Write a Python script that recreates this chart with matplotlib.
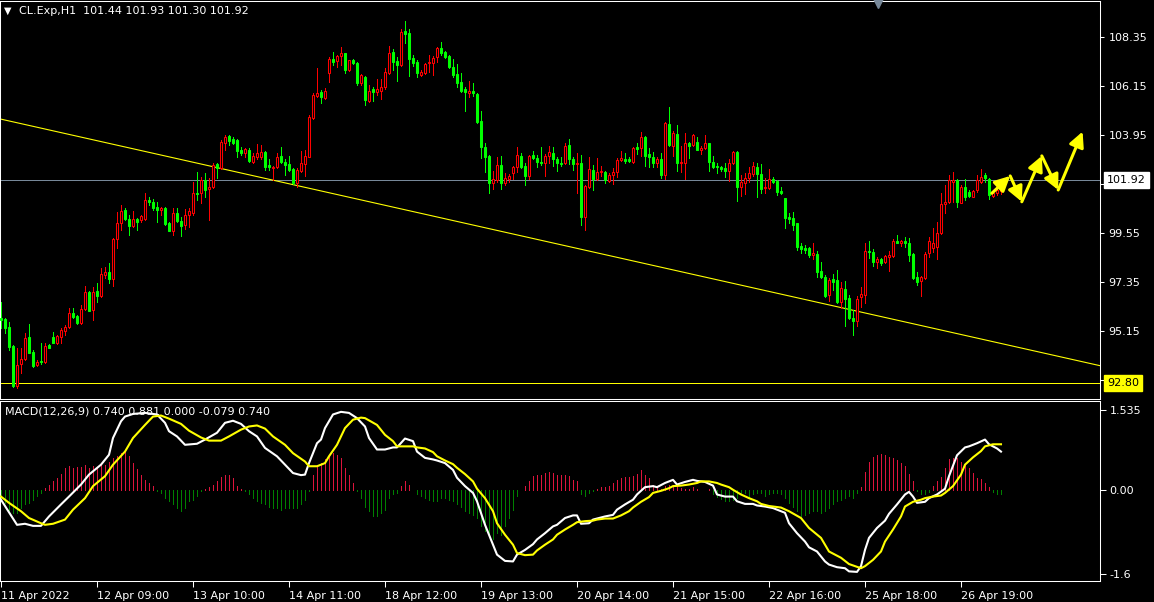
import matplotlib
matplotlib.use('Agg')
import matplotlib.pyplot as plt
import numpy as np

# CL.Exp H1 candles, 11 Apr 2022 -> 26 Apr 2022 (one entry per hour bar)
opens = [95.70, 95.66, 95.30, 94.46, 92.68, 93.64, 93.86, 94.85, 94.21, 93.61,
         93.78, 93.76, 94.51, 94.85, 94.58, 94.85, 95.15, 95.30, 95.96, 95.81,
         95.51, 96.11, 96.90, 96.08, 96.93, 96.72, 97.65, 97.80, 97.46, 99.25,
         100.00, 100.57, 100.15, 99.87, 100.15, 100.12, 100.15, 101.02, 100.94, 100.69,
         100.57, 100.64, 100.00, 99.64, 100.42, 100.09, 99.90, 100.34, 100.45, 101.35,
         101.32, 101.92, 101.50, 101.59, 102.62, 102.44, 103.59, 103.89, 103.74, 103.71,
         103.26, 103.14, 103.26, 102.74, 102.93, 102.96, 103.17, 102.59, 102.44, 102.51,
         102.99, 102.74, 102.63, 102.40, 101.77, 102.34, 102.63, 102.96, 104.69, 105.69,
         105.88, 105.58, 106.71, 107.34, 107.28, 107.49, 107.60, 106.86, 107.31, 107.19,
         106.26, 106.56, 105.48, 105.99, 105.88, 105.93, 106.08, 106.74, 107.68, 107.26,
         107.07, 108.61, 108.53, 107.38, 107.23, 106.63, 106.71, 107.19, 107.16, 107.43,
         107.83, 107.65, 107.49, 107.01, 106.68, 106.33, 105.99, 105.84, 105.93, 105.78,
         104.58, 103.41, 102.99, 101.77, 101.92, 102.59, 101.77, 101.95, 102.22, 102.49,
         102.99, 102.54, 102.10, 103.04, 102.89, 102.71, 102.66, 102.99, 103.14, 102.84,
         102.69, 102.66, 103.49, 102.84, 102.63, 102.66, 100.27, 101.59, 102.37, 101.95,
         102.29, 102.29, 101.89, 102.14, 102.29, 102.81, 102.86, 102.84, 102.74, 103.41,
         103.34, 103.83, 103.08, 102.93, 102.66, 102.84, 102.14, 104.43, 103.44, 103.98,
         102.66, 102.66, 103.59, 103.49, 103.64, 103.26, 103.34, 103.56, 102.74, 102.56,
         102.51, 102.47, 102.34, 102.66, 103.19, 101.62, 101.77, 101.99, 102.19, 102.51,
         102.19, 101.54, 101.54, 101.95, 101.89, 101.44, 101.09, 100.24, 100.19, 100.00,
         98.95, 98.85, 98.85, 98.53, 98.59, 97.84, 97.57, 96.75, 97.46, 97.43,
         96.45, 97.01, 96.60, 95.70, 95.60, 96.65, 96.75, 98.74, 98.70, 98.25,
         98.35, 98.25, 98.47, 98.50, 99.19, 99.07, 99.19, 99.07, 98.59, 97.57,
         97.40, 97.50, 98.62, 98.85, 98.92, 99.52, 100.84, 100.94, 101.84, 101.92,
         100.90, 101.59, 101.39, 101.17, 101.47, 101.84, 102.14, 101.95, 101.20, 101.35,
         101.44]
highs = [96.45, 95.70, 95.55, 94.50, 94.36, 94.36, 95.03, 95.45, 94.28, 93.83,
         94.61, 94.58, 94.55, 95.09, 94.96, 95.25, 95.40, 96.15, 96.15, 95.85,
         96.30, 97.16, 96.95, 97.13, 97.28, 97.98, 98.02, 98.17, 99.30, 100.49,
         100.79, 100.64, 100.34, 100.54, 100.19, 100.34, 101.35, 101.14, 101.05, 100.94,
         100.72, 100.69, 100.04, 100.64, 100.64, 100.27, 100.60, 100.64, 101.84, 102.29,
         102.07, 102.25, 101.99, 102.66, 102.69, 103.71, 103.94, 103.94, 103.83, 103.74,
         103.41, 103.34, 103.34, 103.11, 103.53, 103.49, 103.23, 102.84, 102.54, 103.11,
         103.41, 102.84, 102.99, 102.44, 102.44, 103.23, 103.26, 104.84, 105.81, 106.93,
         105.96, 106.03, 107.43, 107.68, 107.53, 107.87, 107.63, 107.31, 107.34, 107.23,
         106.68, 106.59, 106.18, 106.08, 106.44, 106.44, 106.93, 107.93, 107.78, 107.46,
         108.68, 109.04, 108.68, 107.53, 107.31, 106.86, 107.19, 107.53, 107.49, 107.87,
         108.13, 107.72, 107.53, 107.34, 107.13, 106.71, 106.08, 106.38, 106.26, 105.81,
         105.03, 103.56, 103.04, 102.34, 102.93, 102.99, 102.22, 102.19, 102.54, 103.41,
         103.14, 102.69, 103.04, 103.23, 103.04, 103.38, 103.08, 103.44, 103.41, 102.96,
         102.93, 103.56, 103.74, 102.96, 103.11, 103.04, 101.69, 102.93, 102.59, 102.89,
         102.54, 102.34, 102.22, 102.47, 102.89, 103.23, 103.11, 102.93, 103.41, 103.59,
         104.09, 103.89, 103.34, 103.19, 102.93, 103.11, 104.54, 105.18, 104.13, 104.39,
         103.44, 104.04, 103.64, 103.98, 103.83, 103.44, 103.94, 103.59, 102.99, 102.66,
         102.54, 102.66, 102.84, 103.23, 103.23, 102.14, 102.22, 102.51, 102.74, 102.69,
         102.63, 101.99, 102.40, 102.04, 101.92, 101.62, 101.12, 100.42, 100.49, 100.00,
         99.07, 99.00, 98.89, 99.10, 98.74, 98.25, 97.65, 97.50, 97.69, 97.87,
         97.35, 97.40, 96.75, 96.08, 96.71, 97.10, 99.10, 99.19, 98.80, 98.44,
         98.40, 98.55, 98.74, 99.25, 99.45, 99.22, 99.34, 99.30, 98.65, 97.80,
         97.60, 98.70, 99.34, 99.75, 100.04, 101.32, 101.69, 102.14, 102.29, 101.95,
         101.69, 101.95, 101.47, 101.47, 102.14, 102.40, 102.22, 101.99, 101.39, 101.54,
         101.93]
lows = [95.25, 95.03, 94.28, 92.63, 92.56, 93.23, 93.83, 94.13, 93.53, 93.56,
        93.65, 93.68, 94.36, 94.58, 94.55, 94.58, 94.96, 95.25, 95.70, 95.45,
        95.45, 96.08, 96.05, 95.63, 96.45, 96.68, 97.50, 97.28, 97.16, 98.85,
        99.67, 100.12, 99.45, 99.82, 99.67, 100.04, 100.12, 100.79, 100.57, 100.04,
        100.34, 99.90, 99.64, 99.45, 100.04, 99.40, 99.70, 99.82, 100.34, 101.02,
        100.87, 101.17, 100.12, 101.54, 101.99, 102.40, 103.26, 103.49, 103.53, 102.96,
        103.04, 102.96, 102.74, 102.66, 102.84, 102.84, 102.37, 102.37, 101.92, 102.44,
        102.66, 102.14, 102.34, 101.74, 101.62, 102.29, 102.10, 102.93, 104.64, 105.66,
        105.39, 105.54, 106.33, 107.08, 106.98, 107.08, 106.74, 106.83, 107.13, 106.18,
        106.18, 105.28, 105.43, 105.48, 105.73, 105.54, 105.99, 106.68, 106.86, 106.38,
        107.04, 108.08, 106.59, 107.04, 106.56, 106.59, 106.68, 106.78, 106.63, 107.23,
        107.53, 107.38, 106.93, 106.53, 106.11, 105.88, 105.03, 105.63, 105.69, 104.46,
        102.89, 102.29, 101.32, 101.50, 101.84, 101.50, 101.69, 101.84, 101.95, 102.29,
        102.44, 101.69, 101.95, 102.84, 102.51, 102.59, 102.10, 102.66, 102.54, 102.34,
        102.54, 102.63, 102.63, 102.37, 101.35, 99.90, 99.67, 101.54, 101.47, 101.92,
        102.10, 101.80, 101.84, 101.74, 102.04, 102.78, 102.69, 102.74, 102.69, 103.08,
        102.99, 102.56, 102.51, 102.49, 102.49, 102.02, 101.95, 103.44, 102.99, 102.34,
        102.29, 101.95, 102.89, 103.44, 103.26, 103.08, 103.32, 102.34, 102.44, 102.25,
        102.34, 102.07, 101.89, 102.63, 100.99, 101.20, 101.29, 101.84, 102.10, 101.14,
        101.35, 101.35, 101.50, 101.80, 101.24, 101.29, 99.75, 100.00, 99.67, 98.77,
        98.62, 98.62, 98.47, 98.35, 97.57, 97.50, 96.68, 96.50, 96.98, 96.38,
        96.15, 95.36, 95.66, 94.96, 95.36, 96.23, 96.41, 98.40, 98.05, 97.95,
        98.10, 98.17, 97.84, 98.47, 99.07, 98.95, 98.92, 98.29, 97.46, 97.20,
        96.71, 97.46, 98.47, 98.70, 98.35, 99.49, 100.42, 100.87, 100.94, 100.72,
        100.87, 101.02, 101.17, 101.14, 101.39, 101.77, 101.84, 101.05, 101.14, 101.24,
        101.30]
closes = [95.62, 95.25, 94.43, 92.68, 93.61, 93.86, 94.81, 94.16, 93.58, 93.76,
          93.74, 94.46, 94.39, 94.61, 94.91, 95.18, 95.30, 95.93, 95.78, 95.48,
          96.11, 96.90, 96.05, 96.90, 96.72, 97.68, 97.80, 97.46, 99.25, 100.00,
          100.54, 100.15, 99.85, 100.15, 100.04, 100.30, 101.02, 100.94, 100.64, 100.57,
          100.64, 99.94, 99.64, 100.42, 100.09, 99.85, 100.34, 100.54, 101.35, 101.29,
          101.92, 101.47, 101.59, 102.59, 102.44, 103.64, 103.86, 103.68, 103.59, 103.23,
          103.11, 103.29, 102.78, 102.99, 103.11, 103.19, 102.51, 102.51, 102.51, 102.93,
          102.74, 102.59, 102.37, 101.77, 102.37, 102.69, 102.99, 104.76, 105.73, 105.84,
          105.63, 105.93, 107.34, 107.23, 107.49, 107.60, 106.86, 107.31, 107.19, 106.26,
          106.63, 105.51, 105.93, 105.88, 105.99, 106.08, 106.78, 107.63, 107.23, 107.08,
          108.56, 108.47, 107.34, 107.19, 106.74, 106.78, 107.11, 107.23, 107.38, 107.83,
          107.63, 107.43, 106.98, 106.63, 106.29, 105.93, 105.88, 105.93, 105.81, 104.54,
          103.41, 102.96, 101.77, 101.95, 102.59, 101.77, 101.99, 102.10, 102.49, 103.04,
          102.49, 102.10, 102.99, 102.89, 102.74, 102.66, 102.99, 103.19, 102.84, 102.66,
          102.63, 103.44, 102.84, 102.63, 102.69, 100.27, 101.65, 102.40, 101.95, 102.29,
          102.34, 101.92, 102.14, 102.29, 102.81, 102.89, 102.78, 102.78, 103.37, 103.32,
          103.83, 102.99, 102.93, 102.66, 102.84, 102.14, 104.49, 103.49, 104.01, 102.66,
          102.74, 103.59, 103.46, 103.94, 103.26, 103.37, 103.56, 102.74, 102.51, 102.49,
          102.40, 102.34, 102.69, 103.19, 101.62, 101.84, 101.99, 102.25, 102.54, 102.19,
          101.50, 101.62, 101.95, 101.84, 101.39, 101.32, 100.19, 100.18, 99.90, 98.92,
          98.80, 98.77, 98.55, 98.62, 97.80, 97.54, 96.71, 97.43, 97.35, 96.45,
          97.05, 96.56, 95.70, 95.60, 96.56, 96.80, 98.74, 98.70, 98.25, 98.35,
          98.17, 98.50, 98.55, 99.19, 99.10, 99.19, 99.07, 98.55, 97.50, 97.35,
          97.54, 98.59, 99.19, 99.07, 99.52, 100.84, 100.94, 101.92, 101.92, 100.94,
          101.62, 101.17, 101.20, 101.44, 101.92, 102.07, 101.99, 101.24, 101.32, 101.47,
          101.92]

# MACD histogram, one value per bar
macd_hist = [-0.15, -0.24, -0.37, -0.43, -0.43, -0.34, -0.27, -0.24, -0.18, -0.11,
             -0.05, 0.04, 0.10, 0.17, 0.24, 0.31, 0.43, 0.46, 0.43, 0.44,
             0.44, 0.49, 0.43, 0.46, 0.43, 0.49, 0.49, 0.55, 0.62, 0.65,
             0.71, 0.75, 0.65, 0.52, 0.40, 0.30, 0.20, 0.14, 0.08, -0.01,
             -0.05, -0.15, -0.21, -0.27, -0.34, -0.40, -0.34, -0.21, -0.18, -0.11,
             -0.02, 0.03, 0.06, 0.11, 0.17, 0.25, 0.30, 0.29, 0.24, 0.08,
             0.03, -0.01, -0.08, -0.15, -0.21, -0.24, -0.27, -0.31, -0.34, -0.34,
             -0.37, -0.34, -0.34, -0.34, -0.34, -0.27, -0.18, -0.02, 0.30, 0.46,
             0.52, 0.59, 0.65, 0.71, 0.68, 0.62, 0.43, 0.30, 0.14, -0.01,
             -0.15, -0.31, -0.40, -0.50, -0.50, -0.43, -0.37, -0.15, -0.08, -0.05,
             0.08, 0.17, 0.10, 0.01, -0.08, -0.11, -0.15, -0.18, -0.21, -0.21,
             -0.15, -0.15, -0.18, -0.21, -0.27, -0.31, -0.40, -0.43, -0.47, -0.53,
             -0.69, -0.77, -0.85, -0.94, -0.82, -0.85, -0.69, -0.53, -0.37, -0.11,
             0.01, 0.08, 0.17, 0.27, 0.29, 0.29, 0.33, 0.35, 0.33, 0.30,
             0.29, 0.29, 0.27, 0.20, 0.18, -0.08, -0.11, -0.05, -0.02, 0.03,
             0.06, 0.06, 0.08, 0.14, 0.20, 0.24, 0.25, 0.25, 0.27, 0.31,
             0.38, 0.29, 0.24, 0.10, 0.06, 0.03, 0.08, 0.10, 0.10, 0.08,
             0.04, 0.03, 0.03, 0.06, 0.03, 0.01, 0.01, 0.03, -0.08, -0.13,
             -0.16, -0.21, -0.21, -0.18, -0.15, -0.08, -0.05, -0.15, -0.08, -0.05,
             -0.05, -0.11, -0.08, -0.05, -0.05, -0.08, -0.15, -0.24, -0.31, -0.40,
             -0.50, -0.48, -0.43, -0.40, -0.40, -0.43, -0.40, -0.34, -0.27, -0.21,
             -0.18, -0.15, -0.11, -0.15, -0.05, 0.06, 0.35, 0.55, 0.63, 0.68,
             0.69, 0.67, 0.63, 0.61, 0.57, 0.52, 0.46, 0.31, 0.17, -0.02,
             -0.08, -0.08, -0.03, 0.08, 0.17, 0.25, 0.43, 0.59, 0.62, 0.61,
             0.55, 0.49, 0.43, 0.33, 0.24, 0.22, 0.14, 0.06, -0.03, -0.07,
             -0.08]

# MACD main line (white), read at these bars
macd_bars = [0, 4, 6, 8, 10, 12, 15, 17, 20, 22, 25, 27, 28, 30, 31, 33, 36, 39, 41, 42,
             44, 46, 49, 51, 54, 56, 58, 60, 62, 64, 66, 69, 71, 73, 75, 76, 77, 78, 79, 80,
             81, 83, 85, 87, 89, 91, 92, 94, 96, 98, 99, 101, 103, 104, 106, 108, 109, 111, 113, 114,
             116, 118, 119, 121, 123, 124, 126, 128, 129, 131, 133, 134, 136, 138, 139, 141, 143, 144, 145, 147,
             148, 151, 153, 154, 156, 158, 159, 161, 163, 164, 166, 168, 169, 171, 173, 174, 176, 178, 179, 181,
             183, 184, 186, 188, 189, 191, 193, 194, 196, 197, 199, 201, 202, 204, 206, 207, 209, 211, 212, 214,
             215, 216, 217, 219, 221, 222, 224, 226, 227, 228, 229, 231, 232, 234, 236, 237, 239, 241, 242, 244,
             246, 247, 249, 250]
macd_line = [-0.18, -0.66, -0.64, -0.68, -0.68, -0.50, -0.27, -0.12, 0.11, 0.30, 0.49, 0.68, 1.00, 1.32, 1.41, 1.46, 1.48, 1.45, 1.29, 1.13,
             1.03, 0.87, 0.89, 0.97, 1.10, 1.29, 1.33, 1.27, 1.13, 1.03, 0.81, 0.65, 0.49, 0.33, 0.29, 0.30, 0.52, 0.71, 0.90, 0.97,
             1.19, 1.45, 1.50, 1.48, 1.38, 1.22, 1.00, 0.78, 0.78, 0.82, 0.82, 0.99, 0.94, 0.74, 0.62, 0.59, 0.57, 0.52, 0.39, 0.24,
             0.08, -0.05, -0.21, -0.66, -1.04, -1.23, -1.35, -1.36, -1.23, -1.14, -1.03, -0.94, -0.82, -0.69, -0.66, -0.53, -0.48, -0.48, -0.64, -0.63,
             -0.56, -0.50, -0.47, -0.37, -0.27, -0.18, -0.08, 0.06, 0.08, 0.06, 0.14, 0.20, 0.11, 0.16, 0.20, 0.18, 0.16, 0.09, -0.08, -0.12,
             -0.12, -0.21, -0.26, -0.26, -0.29, -0.31, -0.34, -0.37, -0.43, -0.63, -0.82, -0.98, -1.09, -1.17, -1.36, -1.42, -1.47, -1.49, -1.55, -1.56,
             -1.45, -1.14, -0.91, -0.72, -0.58, -0.45, -0.27, -0.08, -0.03, -0.12, -0.24, -0.22, -0.15, -0.08, 0.03, 0.27, 0.67, 0.82, 0.84, 0.90,
             0.97, 0.88, 0.80, 0.74]

# signal line (yellow), read at these bars
signal_bars = [0, 2, 5, 7, 10, 11, 13, 16, 18, 21, 23, 26, 28, 31, 33, 36, 38, 40, 42, 45,
               47, 50, 52, 55, 57, 60, 62, 64, 66, 68, 71, 73, 76, 77, 79, 81, 82, 84, 86, 88,
               90, 91, 94, 96, 98, 99, 101, 103, 104, 106, 108, 109, 111, 113, 114, 116, 118, 119, 121, 123,
               124, 126, 128, 129, 131, 133, 134, 136, 138, 139, 141, 143, 144, 146, 148, 149, 151, 153, 155, 157,
               158, 160, 162, 163, 165, 167, 168, 170, 172, 174, 175, 177, 179, 180, 182, 183, 185, 187, 189, 190,
               192, 195, 197, 200, 202, 205, 207, 210, 212, 215, 216, 218, 220, 221, 223, 225, 226, 228, 230, 231,
               233, 235, 236, 238, 240, 241, 243, 245, 246, 248, 250]
signal_line = [-0.12, -0.24, -0.40, -0.53, -0.63, -0.66, -0.64, -0.56, -0.37, -0.15, 0.08, 0.27, 0.49, 0.74, 1.00, 1.25, 1.41, 1.43, 1.37, 1.27,
               1.14, 1.01, 0.95, 0.95, 1.03, 1.16, 1.22, 1.24, 1.18, 1.03, 0.87, 0.71, 0.55, 0.46, 0.46, 0.52, 0.65, 0.87, 1.19, 1.35,
               1.39, 1.38, 1.25, 1.06, 0.94, 0.84, 0.84, 0.84, 0.82, 0.80, 0.73, 0.65, 0.57, 0.50, 0.43, 0.31, 0.17, 0.03, -0.15, -0.40,
               -0.63, -0.85, -1.04, -1.20, -1.24, -1.23, -1.15, -1.04, -0.94, -0.85, -0.75, -0.66, -0.61, -0.59, -0.58, -0.56, -0.54, -0.54, -0.48, -0.40,
               -0.33, -0.22, -0.13, -0.05, -0.01, 0.04, 0.08, 0.09, 0.11, 0.14, 0.17, 0.17, 0.14, 0.11, 0.06, 0.01, -0.08, -0.15, -0.21, -0.26,
               -0.30, -0.33, -0.40, -0.53, -0.72, -0.91, -1.17, -1.29, -1.41, -1.49, -1.45, -1.33, -1.17, -0.98, -0.75, -0.50, -0.31, -0.22, -0.18, -0.15,
               -0.12, -0.10, -0.05, 0.08, 0.30, 0.49, 0.63, 0.75, 0.84, 0.88, 0.88]

price_ticks = [92.95, 95.15, 97.35, 99.55, 101.75, 103.95, 106.15, 108.35]
macd_ticks = [1.535, 0.0, -1.6]
macd_tick_labels = ['1.535', '0.00', '-1.6']
date_bars = [0, 24, 48, 72, 96, 120, 144, 168, 192, 216, 240]
date_labels = ['11 Apr 2022', '12 Apr 09:00', '13 Apr 10:00', '14 Apr 11:00', '18 Apr 12:00',
               '19 Apr 13:00', '20 Apr 14:00', '21 Apr 15:00', '22 Apr 16:00', '25 Apr 18:00',
               '26 Apr 19:00']
support_level = 92.80
trend_bars = [0, 274]
trend_prices = [104.65, 93.61]
# hand drawn forecast zigzag
path_bars = [247.7, 252.3, 255.2, 260.2, 264.3, 270.4]
path_prices = [101.32, 102.10, 100.94, 103.00, 101.47, 104.09]

BULL = '#ff0000'
BEAR = '#00ff00'
BID = '#778899'
PX = 0.6   # about one screen pixel, drawn without antialiasing

plt.rcParams['font.family'] = 'DejaVu Sans'
W, H = 1154, 602
fig = plt.figure(figsize=(W / 100, H / 100), dpi=100, facecolor='black')
ax = fig.add_axes([0, 1 - 399 / H, 1100 / W, 398 / H], facecolor='black')
axm = fig.add_axes([0, 1 - 581 / H, 1100 / W, 180 / H], facecolor='black')

o = np.array(opens)
c = np.array(closes)
h = np.maximum(np.array(highs), np.maximum(o, c))
l = np.minimum(np.array(lows), np.minimum(o, c))
idx = np.arange(len(c))
up = c >= o

# candles
ax.vlines(idx, l, h, colors=np.where(up, BULL, BEAR), lw=PX, zorder=2, antialiased=False)
lo = np.minimum(o, c)
hh = np.maximum(np.abs(c - o), 0.03)
ax.bar(idx[up], hh[up], bottom=lo[up], width=0.55, facecolor='black',
       edgecolor=BULL, linewidth=0.75, zorder=3)
ax.bar(idx[~up], hh[~up], bottom=lo[~up], width=0.55, facecolor=BEAR,
       edgecolor=BEAR, linewidth=0.75, zorder=3)

ax.axhline(closes[-1], color=BID, lw=PX, zorder=1, antialiased=False)
ax.axhline(support_level, color='yellow', lw=PX, zorder=1, antialiased=False)
ax.axline((trend_bars[0], trend_prices[0]), (trend_bars[1], trend_prices[1]),
          color='yellow', lw=0.8, zorder=1)

for i in range(len(path_bars) - 1):
    ax.annotate('', xy=(path_bars[i + 1], path_prices[i + 1]),
                xytext=(path_bars[i], path_prices[i]),
                arrowprops=dict(arrowstyle='-|>,head_length=0.9,head_width=0.45',
                                color='yellow', lw=2.2, shrinkA=0, shrinkB=0),
                zorder=5)

ax.set_xlim(-0.25, 274.75)
ax.set_ylim(110 - 399 / 22.27, 110 - 1 / 22.27)
ax.set_xticks([])
ax.yaxis.tick_right()
ax.set_yticks(price_ticks)
ax.set_yticklabels([f'{v:.2f}' for v in price_ticks])
ax.tick_params(axis='y', colors='white', labelcolor='white', labelsize=8,
               length=3, width=0.75, pad=3)
for s in ax.spines.values():
    s.set_color('white')
    s.set_linewidth(0.75)

# price boxes on the right scale (they sit over the nearest tick label, as in the terminal)
ax.annotate(f'{closes[-1]:.2f}', xy=(1, closes[-1]), xycoords=('axes fraction', 'data'),
            xytext=(7, 0), textcoords='offset pixels', ha='left', va='center',
            fontsize=8, color='black', annotation_clip=False, zorder=10,
            bbox=dict(boxstyle='square,pad=0.3', fc='white', ec='white'))
ax.annotate(f'{support_level:.2f}', xy=(1, support_level), xycoords=('axes fraction', 'data'),
            xytext=(7, 0), textcoords='offset pixels', ha='left', va='center',
            fontsize=8, color='black', annotation_clip=False, zorder=10,
            bbox=dict(boxstyle='square,pad=0.3', fc='yellow', ec='yellow'))

# chart shift marker
ax.plot([0.798], [0.995], marker='v', ms=7, color=BID, transform=ax.transAxes,
        clip_on=False, zorder=6)

fig.text(4 / W, 1 - 11 / H, '\u25bc', color='white', fontsize=7, va='center', ha='left')
fig.text(19 / W, 1 - 11 / H,
         f'CL.Exp,H1  {opens[-1]:.2f} {highs[-1]:.2f} {lows[-1]:.2f} {closes[-1]:.2f}',
         color='white', fontsize=8, va='center', ha='left')

# MACD panel
hist = np.array(macd_hist)
axm.vlines(idx, 0, hist, colors=np.where(hist > 0, '#dc143c', '#008000'), lw=PX,
           zorder=2, antialiased=False)
axm.plot(macd_bars, macd_line, color='white', lw=1.5, zorder=3)
axm.plot(signal_bars, signal_line, color='yellow', lw=1.5, zorder=4)
axm.set_xlim(-0.25, 274.75)
axm.set_ylim((490.3 - 581) / 52.3, (490.3 - 401) / 52.3)
axm.yaxis.tick_right()
axm.set_yticks(macd_ticks)
axm.set_yticklabels(macd_tick_labels)
axm.set_xticks(date_bars)
axm.set_xticklabels(date_labels, ha='left')
axm.tick_params(axis='both', colors='white', labelcolor='white', labelsize=8,
                length=4, width=0.75, pad=3)
for s in axm.spines.values():
    s.set_color('white')
    s.set_linewidth(0.75)
axm.text(5 / 1100, 1 - 11 / 180, 'MACD(12,26,9) 0.740 0.881 0.000 -0.079 0.740',
         transform=axm.transAxes, color='white', fontsize=8, va='center', ha='left', zorder=6)

fig.savefig('out.png', dpi=100, facecolor='black')
